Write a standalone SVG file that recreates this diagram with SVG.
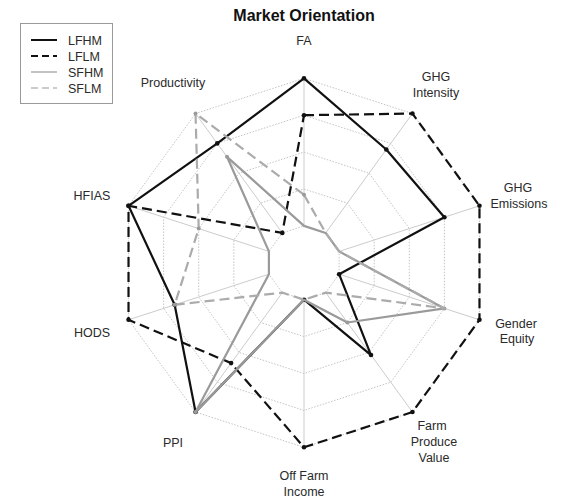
<svg xmlns="http://www.w3.org/2000/svg" width="570" height="501" viewBox="0 0 570 501">
<style>
  text { font-family: "Liberation Sans", Arial, sans-serif; fill: #2a2a2a; }
  .lbl { font-size: 12.5px; text-anchor: middle; }
  .title { font-size: 16px; font-weight: bold; text-anchor: middle; fill: #111; }
  .leg { font-size: 12.5px; }
  .grid { fill: none; stroke: #c4c4c4; stroke-width: 1; stroke-dasharray: 1.5 1.5; }
  .spoke { stroke: #cccccc; stroke-width: 1; }
  .s { fill: none; stroke-width: 2.2; stroke-linejoin: round; }
  .lfhm { stroke: #111; }
  .lflm { stroke: #111; stroke-dasharray: 10 5; }
  .sfhm { stroke: #9a9a9a; }
  .sflm { stroke: #ababab; stroke-dasharray: 10 5; }
  .pk { fill: #111; }
  .pg { fill: #9a9a9a; }
</style>

<text class="title" x="304" y="21">Market Orientation</text>

<g id="grid">
  <polygon class="grid" points="304,225.9 325.69,232.95 339.1,251.4 339.1,274.2 325.69,292.65 304,299.7 282.31,292.65 268.9,274.2 268.9,251.4 282.31,232.95"/>
  <polygon class="grid" points="304,189 347.38,203.1 374.19,240 374.19,285.6 347.38,322.5 304,336.6 260.62,322.5 233.81,285.6 233.81,240 260.62,203.1"/>
  <polygon class="grid" points="304,152.1 369.07,173.24 409.29,228.59 409.29,297.01 369.07,352.36 304,373.5 238.93,352.36 198.71,297.01 198.71,228.59 238.93,173.24"/>
  <polygon class="grid" points="304,115.2 390.76,143.39 444.38,217.19 444.38,308.41 390.76,382.21 304,410.4 217.24,382.21 163.62,308.41 163.62,217.19 217.24,143.39"/>
  <polygon class="grid" points="304,78.3 412.45,113.54 479.48,205.79 479.48,319.81 412.45,412.06 304,447.3 195.55,412.06 128.52,319.81 128.52,205.79 195.55,113.54"/>
  <line class="spoke" x1="304" y1="225.9" x2="304" y2="78.3"/>
  <line class="spoke" x1="325.69" y1="232.95" x2="412.45" y2="113.54"/>
  <line class="spoke" x1="339.1" y1="251.4" x2="479.48" y2="205.79"/>
  <line class="spoke" x1="339.1" y1="274.2" x2="479.48" y2="319.81"/>
  <line class="spoke" x1="325.69" y1="292.65" x2="412.45" y2="412.06"/>
  <line class="spoke" x1="304" y1="299.7" x2="304" y2="447.3"/>
  <line class="spoke" x1="282.31" y1="292.65" x2="195.55" y2="412.06"/>
  <line class="spoke" x1="268.9" y1="274.2" x2="128.52" y2="319.81"/>
  <line class="spoke" x1="268.9" y1="251.4" x2="128.52" y2="205.79"/>
  <line class="spoke" x1="282.31" y1="232.95" x2="195.55" y2="113.54"/>
</g>

<g id="axis-labels">
  <text class="lbl" x="304" y="45">FA</text>
  <text class="lbl" x="436" y="81">GHG</text>
  <text class="lbl" x="436" y="97">Intensity</text>
  <text class="lbl" x="518" y="192">GHG</text>
  <text class="lbl" x="519" y="208">Emissions</text>
  <text class="lbl" x="516" y="328">Gender</text>
  <text class="lbl" x="517" y="343">Equity</text>
  <text class="lbl" x="432" y="430">Farm</text>
  <text class="lbl" x="434" y="446">Produce</text>
  <text class="lbl" x="434" y="462">Value</text>
  <text class="lbl" x="304" y="480">Off Farm</text>
  <text class="lbl" x="304" y="496">Income</text>
  <text class="lbl" x="173" y="447">PPI</text>
  <text class="lbl" x="92" y="337">HODS</text>
  <text class="lbl" x="92" y="200">HFIAS</text>
  <text class="lbl" x="173" y="87">Productivity</text>
</g>

<g id="connectors">
  <g id="series-LFHM">
    <polygon class="s lfhm" points="304,78.3 386.29,149.54 444.38,217.19 339.1,274.2 371.01,355.03 304,299.7 195.55,412.06 174.65,304.82 128.52,205.79 217.24,143.39"/>
    <g class="pk">
      <circle cx="304" cy="78.3" r="2.3"/><circle cx="386.29" cy="149.54" r="2.3"/><circle cx="444.38" cy="217.19" r="2.3"/><circle cx="339.1" cy="274.2" r="2.3"/><circle cx="371.01" cy="355.03" r="2.3"/><circle cx="304" cy="299.7" r="2.3"/><circle cx="195.55" cy="412.06" r="2.3"/><circle cx="174.65" cy="304.82" r="2.3"/><circle cx="128.52" cy="205.79" r="2.3"/><circle cx="217.24" cy="143.39" r="2.3"/>
    </g>
  </g>
  <g id="series-LFLM">
    <polygon class="s lflm" points="304,115.2 412.45,113.54 479.48,205.79 479.48,319.81 412.45,412.06 304,447.3 231.11,363.12 128.52,319.81 128.52,205.79 282.31,232.95"/>
    <g class="pk">
      <circle cx="304" cy="115.2" r="2.3"/><circle cx="412.45" cy="113.54" r="2.3"/><circle cx="479.48" cy="205.79" r="2.3"/><circle cx="479.48" cy="319.81" r="2.3"/><circle cx="412.45" cy="412.06" r="2.3"/><circle cx="304" cy="447.3" r="2.3"/><circle cx="231.11" cy="363.12" r="2.3"/><circle cx="128.52" cy="319.81" r="2.3"/><circle cx="128.52" cy="205.79" r="2.3"/><circle cx="282.31" cy="232.95" r="2.3"/>
    </g>
  </g>
  <g id="series-SFHM">
    <polygon class="s sfhm" points="304,225.9 325.69,232.95 339.1,251.4 444.38,308.41 347.38,322.5 304,299.7 195.55,412.06 268.9,274.2 268.9,251.4 227,156.82"/>
    <g class="pg">
      <circle cx="444.38" cy="308.41" r="2"/><circle cx="347.38" cy="322.5" r="2"/><circle cx="195.55" cy="412.06" r="2"/><circle cx="227" cy="156.82" r="2"/>
    </g>
  </g>
  <g id="series-SFLM">
    <polygon class="s sflm" points="304,194.8 325.69,232.95 339.1,251.4 444.38,308.41 325.69,292.65 304,299.7 282.31,292.65 174.65,304.82 198.71,228.59 195.55,113.54"/>
    <g class="pg">
      <circle cx="304" cy="194.8" r="2"/><circle cx="174.65" cy="304.82" r="2"/><circle cx="198.71" cy="228.59" r="2"/><circle cx="195.55" cy="113.54" r="2"/>
    </g>
  </g>
</g>

<g id="legend">
  <rect x="20.5" y="23.5" width="92" height="80" fill="#fff" stroke="#999" stroke-width="1"/>
  <line x1="31" y1="40" x2="57" y2="40" stroke="#111" stroke-width="2"/>
  <line x1="31" y1="56" x2="57" y2="56" stroke="#111" stroke-width="2" stroke-dasharray="7 4"/>
  <line x1="31" y1="72" x2="57" y2="72" stroke="#9a9a9a" stroke-width="1.2"/>
  <line x1="31" y1="88" x2="57" y2="88" stroke="#9a9a9a" stroke-width="1.2" stroke-dasharray="7 4"/>
  <text class="leg" x="68" y="44.5">LFHM</text>
  <text class="leg" x="68" y="60.5">LFLM</text>
  <text class="leg" x="68" y="76.5">SFHM</text>
  <text class="leg" x="68" y="92.5">SFLM</text>
</g>
</svg>
